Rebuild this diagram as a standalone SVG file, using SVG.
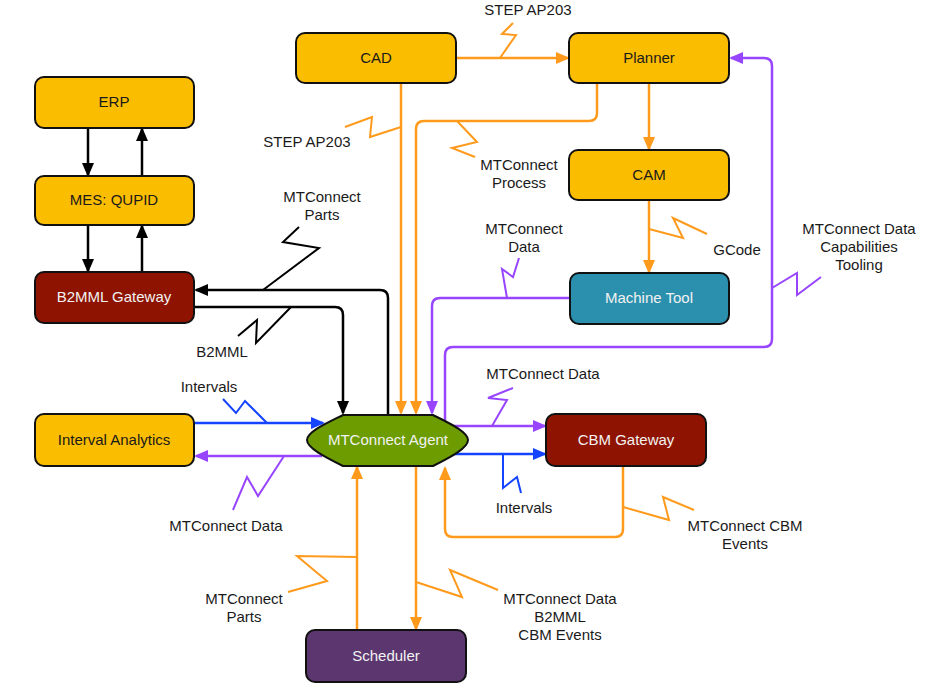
<svg xmlns="http://www.w3.org/2000/svg" width="935" height="690" viewBox="0 0 935 690">
<style>
text{font-family:"Liberation Sans",Arial,sans-serif;font-size:15px;text-anchor:middle;fill:#1a1a1a}
.node{stroke:#111;stroke-width:2}
.y{fill:#fbbd00}
.r{fill:#8e1300}
.t{fill:#2b8fae}
.g{fill:#6c9c00}
.p{fill:#5b366f}
.lt{fill:#f2f2f2}
.c{fill:none;stroke-width:2.5}
.z{fill:none;stroke-width:2}
.o{stroke:#ff9a1c}
.v{stroke:#9745ff}
.b{stroke:#1444ff}
.k{stroke:#000}
</style>
<defs>
<marker id="ao" markerUnits="userSpaceOnUse" markerWidth="14" markerHeight="12" refX="12" refY="6" orient="auto"><path d="M0,0 L14,6 L0,12 z" fill="#ff9a1c"/></marker>
<marker id="av" markerUnits="userSpaceOnUse" markerWidth="14" markerHeight="12" refX="12" refY="6" orient="auto"><path d="M0,0 L14,6 L0,12 z" fill="#9745ff"/></marker>
<marker id="ab" markerUnits="userSpaceOnUse" markerWidth="14" markerHeight="12" refX="12" refY="6" orient="auto"><path d="M0,0 L14,6 L0,12 z" fill="#1444ff"/></marker>
<marker id="ak" markerUnits="userSpaceOnUse" markerWidth="14" markerHeight="12" refX="12" refY="6" orient="auto"><path d="M0,0 L14,6 L0,12 z" fill="#000"/></marker>
</defs>
<rect width="935" height="690" fill="#fff"/>
<g id="connectors">
<path class="c o" d="M456,58 H568" marker-end="url(#ao)"/>
<path class="c o" d="M401,83 V413" marker-end="url(#ao)"/>
<path class="c o" d="M597,83 V113 Q597,121 589,121 H424 Q416,121 416,129 V413" marker-end="url(#ao)"/>
<path class="c o" d="M649,83 V149" marker-end="url(#ao)"/>
<path class="c o" d="M649,200 V272" marker-end="url(#ao)"/>
<path class="c v" d="M570,298 H440 Q432,298 432,306 V413" marker-end="url(#av)"/>
<path class="c v" d="M445,426 V355 Q445,347 453,347 H764 Q772,347 772,339 V66 Q772,58 764,58 H731" marker-end="url(#av)"/>
<path class="c v" d="M445,426 H545" marker-end="url(#av)"/>
<path class="c b" d="M449,454 H545" marker-end="url(#ab)"/>
<path class="c o" d="M623,466 V529 Q623,537 615,537 H453 Q445,537 445,529 V468" marker-end="url(#ao)"/>
<path class="c b" d="M194,423 H323" marker-end="url(#ab)"/>
<path class="c v" d="M322,456 H196" marker-end="url(#av)"/>
<path class="c k" d="M388,415 V298 Q388,290 380,290 H196" marker-end="url(#ak)"/>
<path class="c k" d="M194,307 H335 Q343,307 343,315 V413" marker-end="url(#ak)"/>
<path class="c k" d="M88,128 V175" marker-end="url(#ak)"/>
<path class="c k" d="M142,176 V129" marker-end="url(#ak)"/>
<path class="c k" d="M88,225 V271" marker-end="url(#ak)"/>
<path class="c k" d="M142,272 V226" marker-end="url(#ak)"/>
<path class="c o" d="M357,630 V467" marker-end="url(#ao)"/>
<path class="c o" d="M416,466 V629" marker-end="url(#ao)"/>
<!-- lightning label leaders -->
<polyline class="z o" points="500,58 516,35 502,34 513,23"/>
<polyline class="z o" points="401,127 370,137 372,117 345,127"/>
<polyline class="z o" points="457,121 477,142 452,148 475,157"/>
<polyline class="z o" points="649,229 683,238 673,218 707,234"/>
<polyline class="z v" points="507,298 502,269 513,277 519,258"/>
<polyline class="z v" points="772,288 797,273 797,295 821,277"/>
<polyline class="z v" points="492,426 507,400 488,398 513,388"/>
<polyline class="z b" points="503,454 503,488 517,477 521,493"/>
<polyline class="z o" points="623,507 669,520 663,497 694,510"/>
<polyline class="z b" points="267,423 245,401 236,413 223,399"/>
<polyline class="z v" points="284,456 258,496 247,477 233,510"/>
<polyline class="z k" points="263,290 319,248 283,242 299,227"/>
<polyline class="z k" points="291,307 256,343 257,320 238,336"/>
<polyline class="z o" points="357,557 297,556 327,581 288,592"/>
<polyline class="z o" points="416,582 462,597 450,570 498,590"/>
</g>
<g id="labels">
<text x="528" y="15">STEP AP203</text>
<text x="307" y="147">STEP AP203</text>
<text x="519" y="170">MTConnect</text>
<text x="519" y="188">Process</text>
<text x="322" y="202">MTConnect</text>
<text x="322" y="220">Parts</text>
<text x="222" y="357">B2MML</text>
<text x="524" y="234">MTConnect</text>
<text x="524" y="252">Data</text>
<text x="737" y="255">GCode</text>
<text x="859" y="234">MTConnect Data</text>
<text x="859" y="252">Capabilities</text>
<text x="859" y="270">Tooling</text>
<text x="543" y="379">MTConnect Data</text>
<text x="209" y="392">Intervals</text>
<text x="226" y="531">MTConnect Data</text>
<text x="524" y="513">Intervals</text>
<text x="745" y="531">MTConnect CBM</text>
<text x="745" y="549">Events</text>
<text x="244" y="604">MTConnect</text>
<text x="244" y="622">Parts</text>
<text x="560" y="604">MTConnect Data</text>
<text x="560" y="622">B2MML</text>
<text x="560" y="640">CBM Events</text>
</g>
<g id="cad"><rect class="node y" x="296" y="33" width="160" height="50" rx="9"/><text x="376" y="63">CAD</text></g>
<g id="planner"><rect class="node y" x="569" y="33" width="160" height="50" rx="9"/><text x="649" y="63">Planner</text></g>
<g id="cam"><rect class="node y" x="569" y="150" width="160" height="50" rx="9"/><text x="649" y="180">CAM</text></g>
<g id="machine-tool"><rect class="node t" x="570" y="273" width="159" height="51" rx="9"/><text class="lt" x="649" y="303">Machine Tool</text></g>
<g id="erp"><rect class="node y" x="35" y="77" width="159" height="51" rx="9"/><text x="114" y="107">ERP</text></g>
<g id="mes"><rect class="node y" x="35" y="176" width="159" height="49" rx="9"/><text x="114" y="205">MES: QUPID</text></g>
<g id="b2mml-gateway"><rect class="node r" x="35" y="272" width="159" height="51" rx="9"/><text class="lt" x="114" y="302">B2MML Gateway</text></g>
<g id="interval-analytics"><rect class="node y" x="35" y="414" width="159" height="52" rx="9"/><text x="114" y="445">Interval Analytics</text></g>
<g id="mtconnect-agent"><path class="node g" stroke-linejoin="round" d="M343,415 H433 C451,424 468,432 468,440 C468,448 451,457 433,466 H343 C325,457 307,448 307,440 C307,432 325,424 343,415 Z"/><text class="lt" x="388" y="445">MTConnect Agent</text></g>
<g id="cbm-gateway"><rect class="node r" x="546" y="414" width="160" height="52" rx="9"/><text class="lt" x="626" y="445">CBM Gateway</text></g>
<g id="scheduler"><rect class="node p" x="306" y="630" width="160" height="52" rx="9"/><text class="lt" x="386" y="661">Scheduler</text></g>
</svg>
